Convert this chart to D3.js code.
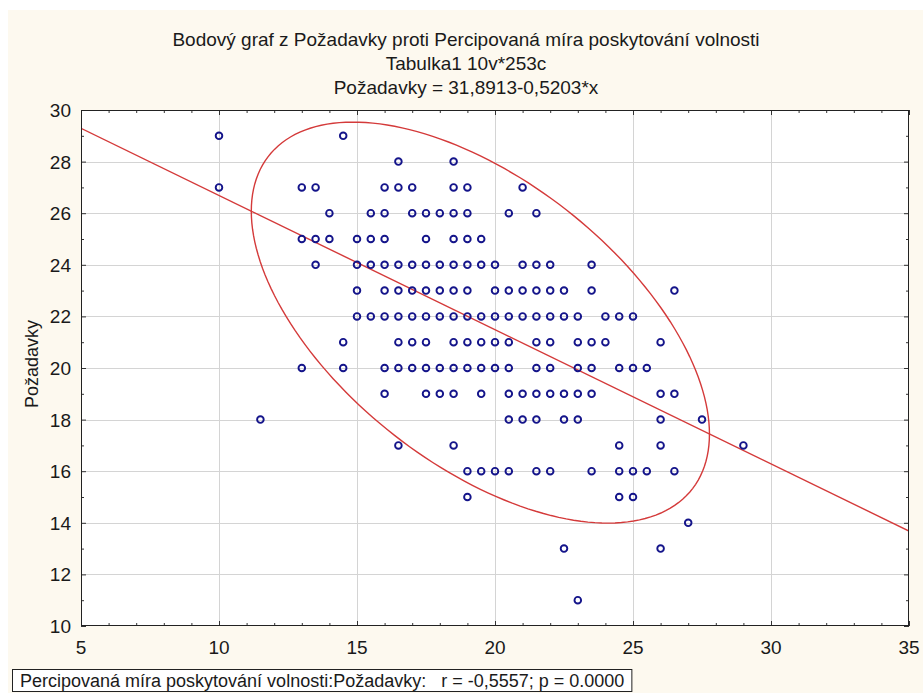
<!DOCTYPE html>
<html>
<head>
<meta charset="utf-8">
<script src="https://cdn.jsdelivr.net/npm/d3@7"></script>
<style>
  html, body { margin: 0; padding: 0; background: #ffffff; }
  svg text { font-family: "Liberation Sans", Arial, sans-serif; fill: #1a1a1a; }
</style>
</head>
<body>
<svg id="chart" width="923" height="693"></svg>
<script>
// Scatter rows: every observed Požadavky value with the Percipovaná values that occur at it
const rowY = [29, 28, 27, 26, 25, 24, 23, 22, 21, 20, 19, 18, 17, 16, 15, 14, 13, 11];
const rowX = [
  [10, 14.5],
  [16.5, 18.5],
  [10, 13, 13.5, 16, 16.5, 17, 18.5, 19, 21],
  [14, 15.5, 16, 17, 17.5, 18, 18.5, 19, 20.5, 21.5],
  [13, 13.5, 14, 15, 15.5, 16, 17.5, 18.5, 19, 19.5],
  [13.5, 15, 15.5, 16, 16.5, 17, 17.5, 18, 18.5, 19, 19.5, 20, 21, 21.5, 22, 23.5],
  [15, 16, 16.5, 17, 17.5, 18, 18.5, 19, 20, 20.5, 21, 21.5, 22, 22.5, 23.5, 26.5],
  [15, 15.5, 16, 16.5, 17, 17.5, 18, 18.5, 19, 19.5, 20, 20.5, 21, 21.5, 22, 22.5, 23, 24, 24.5, 25],
  [14.5, 16.5, 17, 17.5, 18.5, 19, 19.5, 20, 20.5, 21.5, 22, 23, 23.5, 24, 26],
  [13, 14.5, 16, 16.5, 17, 17.5, 18, 18.5, 19, 19.5, 20, 20.5, 21.5, 22, 23, 23.5, 24.5, 25, 25.5],
  [16, 17.5, 18, 18.5, 19.5, 20.5, 21, 21.5, 22, 22.5, 23, 23.5, 26, 26.5],
  [11.5, 20.5, 21, 21.5, 22.5, 23, 26, 27.5],
  [16.5, 18.5, 24.5, 26, 29],
  [19, 19.5, 20, 20.5, 21.5, 22, 23.5, 24.5, 25, 25.5, 26.5],
  [19, 24.5, 25],
  [27],
  [22.5, 26],
  [23]
];

// Axis ranges and tick labels
const xTicks = [5, 10, 15, 20, 25, 30, 35];
const yTicks = [10, 12, 14, 16, 18, 20, 22, 24, 26, 28, 30];

// Fitted line and summary statistics
const intercept = 31.8913;
const slope = -0.5203;
const meanX = 19.47, meanY = 21.76;
const sdX = 3.391, sdY = 3.175;
const corr = -0.5557;
const ellipseChi2 = 5.991; // 95 % coverage, 2 d.f.

const titleLines = [
  "Bodový graf z Požadavky proti Percipovaná míra poskytování volnosti",
  "Tabulka1 10v*253c",
  "Požadavky = 31,8913-0,5203*x"
];
const yLabel = "Požadavky";
const footer = "Percipovaná míra poskytování volnosti:Požadavky:   r = -0,5557; p = 0.0000";

const points = [];
rowY.forEach((yv, i) => rowX[i].forEach(xv => points.push({ x: xv, y: yv })));

const svg = d3.select("#chart");
const W = 923, H = 693;
const plot = { left: 81, right: 909, top: 110, bottom: 626 };

const x = d3.scaleLinear().domain([5, 35]).range([plot.left, plot.right]);
const y = d3.scaleLinear().domain([10, 30]).range([plot.bottom, plot.top]);

// page background
svg.append("rect").attr("x", 0).attr("y", 0).attr("width", W).attr("height", H).attr("fill", "#ffffff");
svg.append("rect").attr("x", 8).attr("y", 10).attr("width", W - 8).attr("height", H - 10).attr("fill", "#fdf9ef");

// plot area
svg.append("rect")
  .attr("x", plot.left).attr("y", plot.top)
  .attr("width", plot.right - plot.left).attr("height", plot.bottom - plot.top)
  .attr("fill", "#ffffff");

svg.append("defs").append("clipPath").attr("id", "plotClip")
  .append("rect")
  .attr("x", plot.left).attr("y", plot.top)
  .attr("width", plot.right - plot.left).attr("height", plot.bottom - plot.top);

// grid
const grid = svg.append("g").attr("stroke", "#d4d4d4").attr("stroke-width", 1);
grid.selectAll("line.gx").data(xTicks.slice(1, -1)).join("line")
  .attr("x1", d => Math.round(x(d)) + 0.5).attr("x2", d => Math.round(x(d)) + 0.5)
  .attr("y1", plot.top).attr("y2", plot.bottom);
grid.selectAll("line.gy").data(yTicks.slice(1, -1)).join("line")
  .attr("y1", d => Math.round(y(d)) + 0.5).attr("y2", d => Math.round(y(d)) + 0.5)
  .attr("x1", plot.left).attr("x2", plot.right);

// axes with inward major and minor ticks on all four sides
const xMinor = d3.range(5, 36, 1);
const yMinor = d3.range(10, 31, 1);
function tickLen(v, major) { return major.includes(v) ? 5 : 3; }

const axB = d3.axisBottom(x).tickValues(xMinor).tickSizeInner(0).tickSizeOuter(0).tickFormat("");
const axT = d3.axisTop(x).tickValues(xMinor).tickSizeInner(0).tickSizeOuter(0).tickFormat("");
const axL = d3.axisLeft(y).tickValues(yMinor).tickSizeInner(0).tickSizeOuter(0).tickFormat("");
const axR = d3.axisRight(y).tickValues(yMinor).tickSizeInner(0).tickSizeOuter(0).tickFormat("");

function styleTicks(g, dir, major) {
  g.selectAll(".tick line")
    .attr("stroke", "#333")
    .each(function (d) {
      const len = tickLen(d, major);
      const l = d3.select(this);
      if (dir === "b") l.attr("y2", -len);
      if (dir === "t") l.attr("y2", len);
      if (dir === "l") l.attr("x2", len);
      if (dir === "r") l.attr("x2", -len);
    });
  g.select(".domain").remove();
}
svg.append("g").attr("transform", `translate(0,${plot.bottom})`).call(axB).call(g => styleTicks(g, "b", xTicks));
svg.append("g").attr("transform", `translate(0,${plot.top})`).call(axT).call(g => styleTicks(g, "t", xTicks));
svg.append("g").attr("transform", `translate(${plot.left},0)`).call(axL).call(g => styleTicks(g, "l", yTicks));
svg.append("g").attr("transform", `translate(${plot.right},0)`).call(axR).call(g => styleTicks(g, "r", yTicks));

// tick labels
svg.append("g").selectAll("text").data(xTicks).join("text")
  .attr("x", d => x(d)).attr("y", plot.bottom + 28)
  .attr("text-anchor", "middle").attr("font-size", 19)
  .text(d => d);
svg.append("g").selectAll("text").data(yTicks).join("text")
  .attr("x", plot.left - 10).attr("y", d => y(d) + 7)
  .attr("text-anchor", "end").attr("font-size", 19)
  .text(d => d);

// y axis title
svg.append("text")
  .attr("transform", `translate(38,${(plot.top + plot.bottom) / 2 - 4}) rotate(-90)`)
  .attr("text-anchor", "middle").attr("font-size", 18)
  .text(yLabel);

// chart titles
svg.append("g").selectAll("text").data(titleLines).join("text")
  .attr("x", 466).attr("y", (d, i) => 46 + i * 24)
  .attr("text-anchor", "middle").attr("font-size", 19)
  .text(d => d);

const plotG = svg.append("g").attr("clip-path", "url(#plotClip)");

// 95 % confidence ellipse
const k = Math.sqrt(ellipseChi2);
const ts = d3.range(0, 2 * Math.PI, Math.PI / 90);
const ellipse = ts.map(t => [
  meanX + k * sdX * Math.cos(t),
  meanY + k * sdY * (corr * Math.cos(t) + Math.sqrt(1 - corr * corr) * Math.sin(t))
]);
plotG.append("path")
  .datum(ellipse)
  .attr("d", d3.line().x(d => x(d[0])).y(d => y(d[1])).curve(d3.curveLinearClosed))
  .attr("fill", "none").attr("stroke", "#d43a3a").attr("stroke-width", 1.4);

// regression line
const xs = x.domain();
plotG.append("line")
  .attr("x1", x(xs[0])).attr("y1", y(intercept + slope * xs[0]))
  .attr("x2", x(xs[1])).attr("y2", y(intercept + slope * xs[1]))
  .attr("stroke", "#d43a3a").attr("stroke-width", 1.4);

// observations
plotG.append("g").selectAll("circle").data(points).join("circle")
  .attr("cx", d => x(d.x)).attr("cy", d => y(d.y)).attr("r", 3.3)
  .attr("fill", "none").attr("stroke", "#14148a").attr("stroke-width", 1.9);

// plot frame
svg.append("rect")
  .attr("x", plot.left + 0.5).attr("y", plot.top + 0.5)
  .attr("width", plot.right - plot.left - 1).attr("height", plot.bottom - plot.top - 1)
  .attr("fill", "none").attr("stroke", "#222").attr("stroke-width", 1);

// footer with correlation summary
const fg = svg.append("g");
const fbox = fg.append("rect").attr("x", 12.5).attr("y", 669.5).attr("height", 22)
  .attr("fill", "#ffffff").attr("stroke", "#222").attr("stroke-width", 1);
const ft = fg.append("text").attr("x", 20).attr("y", 686.5).attr("font-size", 18)
  .style("white-space", "pre").text(footer);
fbox.attr("width", ft.node().getComputedTextLength() + 15);
</script>
</body>
</html>
